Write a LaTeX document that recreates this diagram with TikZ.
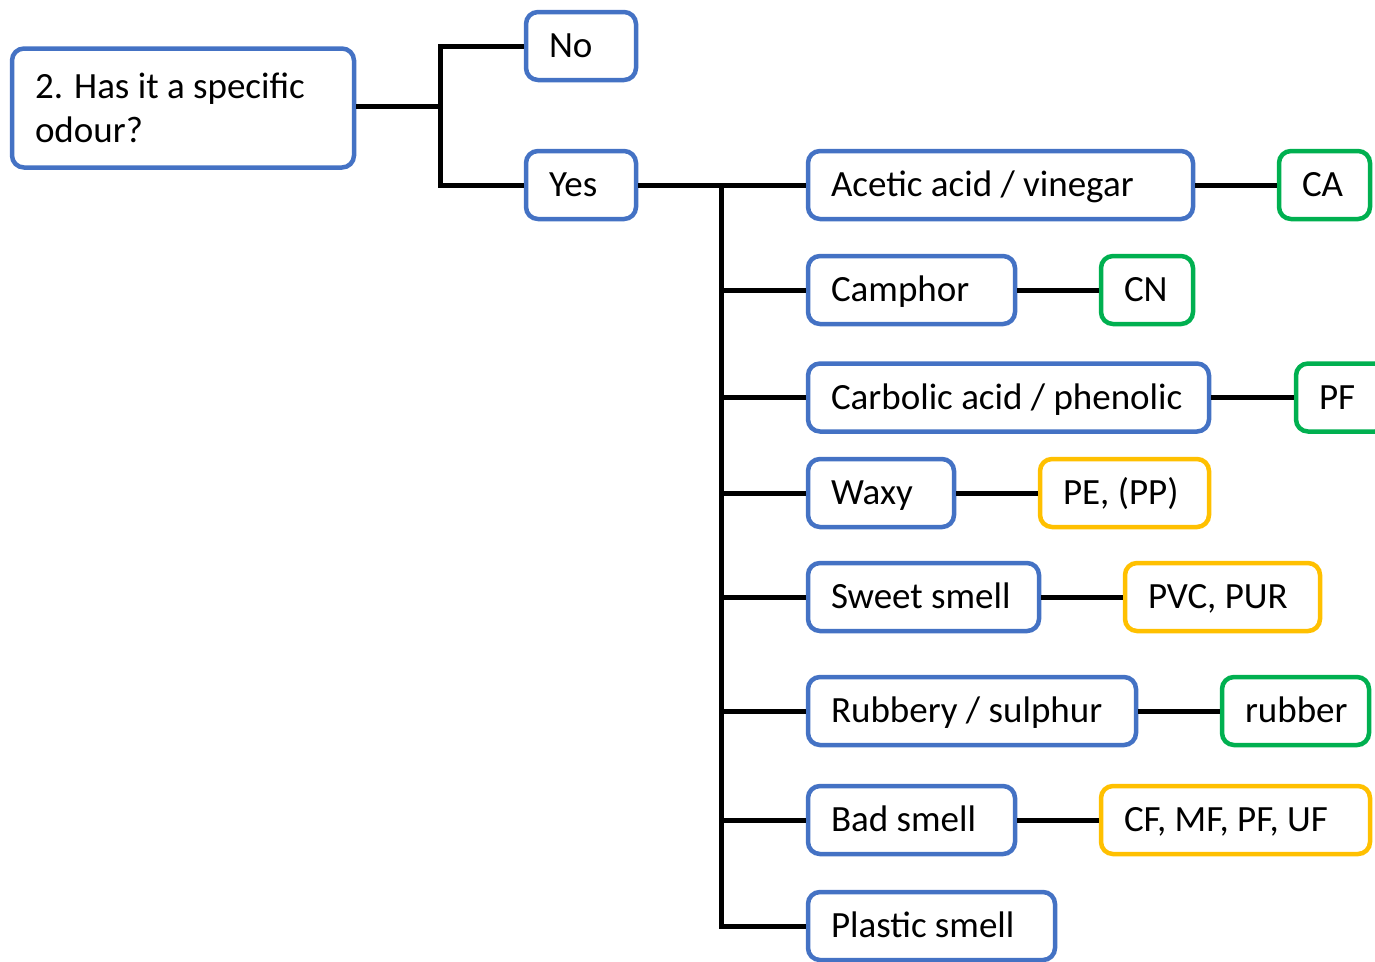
\documentclass[tikz,border=0pt]{standalone}
\usepackage{fontspec}
\setmainfont{Carlito}
\definecolor{bblue}{HTML}{4472C4}
\definecolor{bgreen}{HTML}{00B050}
\definecolor{byellow}{HTML}{FFC000}
\begin{document}
\begin{tikzpicture}[x=1pt,y=-1pt,
  box/.style={draw, line width=4.5pt, rounded corners=12pt, fill=white, text=black,
    font=\fontsize{37}{44}\selectfont, align=flush left, inner xsep=23pt, inner ysep=0pt,
    execute at begin node={\spaceskip=0pt\xspaceskip=0pt},
    minimum height=68pt, text height=23pt, text depth=0pt},
  ibox/.style={box, draw=bblue},
  gbox/.style={box, draw=bgreen},
  ybox/.style={box, draw=byellow},
  conn/.style={draw, line width=5pt, black}]
\useasboundingbox (0,0) rectangle (1375,961);
% question and answers
\node[ibox, text width=296pt, minimum height=119pt, text height=, text depth=] (q) at (183,108) {\mbox{2. Has it a specific}\\odour?};
\node[ibox, text width=64pt] (no) at (581,46) {\mbox{No}};
\node[ibox, text width=64pt] (yes) at (581,185) {\mbox{Yes}};
% odour boxes
\node[ibox, text width=339pt] (acetic) at (1000.5,185) {\mbox{Acetic acid / vinegar}};
\node[ibox, text width=161pt] (camphor) at (911.5,290) {\mbox{Camphor}};
\node[ibox, text width=355pt] (carbolic) at (1008.5,397.5) {\mbox{Carbolic acid / phenolic}};
\node[ibox, text width=100pt] (waxy) at (881,493) {\mbox{Waxy}};
\node[ibox, text width=185pt] (sweet) at (923.5,597) {\mbox{Sweet smell}};
\node[ibox, text width=282pt] (rubbery) at (972,711) {\mbox{Rubbery / sulphur}};
\node[ibox, text width=161pt] (bad) at (911.5,820) {\mbox{Bad smell}};
\node[ibox, text width=201pt] (plastic) at (931.5,926) {\mbox{Plastic smell}};
% results
\node[gbox, text width=45pt] (ca) at (1324.5,185) {\mbox{CA}};
\node[gbox, text width=46pt] (cn) at (1147,290) {\mbox{CN}};
\node[gbox, text width=45pt] (pf) at (1341.5,397.5) {\mbox{PF}};
\node[ybox, text width=123pt] (pe) at (1124.5,493) {\mbox{PE, (PP)}};
\node[ybox, text width=149pt] (pvc) at (1222.5,597) {\mbox{PVC, PUR}};
\node[gbox, text width=101pt] (rubber) at (1295.5,711) {\mbox{rubber}};
\node[ybox, text width=223pt] (cf) at (1235.5,820) {\mbox{CF, MF, PF, UF}};
% connectors
\coordinate (j1) at (440,106.5);
\coordinate (t) at (721,185);
\draw[conn] (q.east |- j1) -- (j1);
\draw[conn] (no.west) -| (j1) |- (yes.west);
\draw[conn] (yes.east) -- (acetic.west);
\draw[conn] (t) |- (plastic.west);
\draw[conn] (t |- camphor.west) -- (camphor.west);
\draw[conn] (t |- carbolic.west) -- (carbolic.west);
\draw[conn] (t |- waxy.west) -- (waxy.west);
\draw[conn] (t |- sweet.west) -- (sweet.west);
\draw[conn] (t |- rubbery.west) -- (rubbery.west);
\draw[conn] (t |- bad.west) -- (bad.west);
\draw[conn] (acetic.east) -- (ca.west);
\draw[conn] (camphor.east) -- (cn.west);
\draw[conn] (carbolic.east) -- (pf.west);
\draw[conn] (waxy.east) -- (pe.west);
\draw[conn] (sweet.east) -- (pvc.west);
\draw[conn] (rubbery.east) -- (rubber.west);
\draw[conn] (bad.east) -- (cf.west);
\end{tikzpicture}
\end{document}
